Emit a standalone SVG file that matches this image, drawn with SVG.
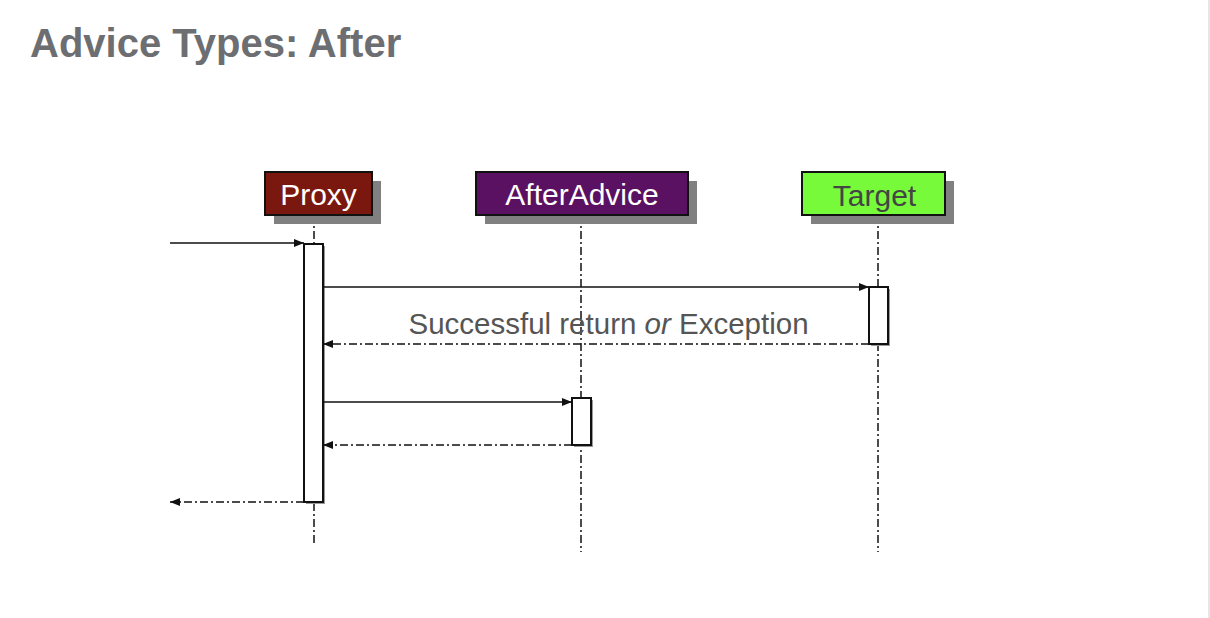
<svg xmlns="http://www.w3.org/2000/svg" width="1210" height="618" viewBox="0 0 1210 618">
<style>
.title{font-family:"Liberation Sans",Arial,sans-serif;font-weight:bold;font-size:40px;fill:#6d6e71}
.lbl{font-family:"Liberation Sans",Arial,sans-serif;font-size:30px;text-anchor:middle}
.msg{font-family:"Liberation Sans",Arial,sans-serif;font-size:29.5px;fill:#555;text-anchor:middle}
.box{stroke:#111;stroke-width:2}
.shadow{fill:#808080}
.life{stroke:#111;stroke-width:1.5;stroke-dasharray:8 3 2 3;fill:none}
.act{fill:#fff;stroke:#111;stroke-width:2}
.call{stroke:#111;stroke-width:1.3;fill:none;marker-end:url(#ah)}
.ret{stroke:#111;stroke-width:1.3;fill:none;stroke-dasharray:8 3 2 3;marker-end:url(#ah)}
</style>
<defs>
<marker id="ah" viewBox="0 0 10 10" refX="10" refY="5" markerWidth="10" markerHeight="10" markerUnits="userSpaceOnUse" orient="auto">
<path d="M0,1 L10,5 L0,9 z" fill="#111"/>
</marker>
</defs>
<rect width="1210" height="618" fill="#fff"/>
<line x1="1209" y1="0" x2="1209" y2="618" stroke="#e6e6e6" stroke-width="2"/>
<text class="title" x="30" y="57">Advice Types: After</text>

<g id="lifelines">
<line class="life" x1="314" y1="215" x2="314" y2="545"/>
<line class="life" x1="581" y1="215" x2="581" y2="552"/>
<line class="life" x1="878" y1="215" x2="878" y2="552"/>
</g>

<g id="proxy">
<rect class="shadow" x="274" y="181" width="107" height="43"/>
<rect class="box" x="265" y="172" width="107" height="43" fill="#7a180f"/>
<text class="lbl" x="318.5" y="205" fill="#fff">Proxy</text>
</g>
<g id="afteradvice">
<rect class="shadow" x="485" y="181" width="212" height="43"/>
<rect class="box" x="476" y="172" width="212" height="43" fill="#5b1161"/>
<text class="lbl" x="582" y="205" fill="#fff">AfterAdvice</text>
</g>
<g id="target">
<rect class="shadow" x="811" y="181" width="143" height="43"/>
<rect class="box" x="802" y="172" width="143" height="43" fill="#76fa3a"/>
<text class="lbl" x="874.5" y="206" fill="#444">Target</text>
</g>

<g id="activations">
<rect x="306" y="246" width="19" height="258" fill="#999"/>
<rect class="act" x="304" y="244" width="19" height="258"/>
<rect x="871" y="289" width="19" height="57" fill="#999"/>
<rect class="act" x="869" y="287" width="19" height="57"/>
<rect x="574" y="400" width="19" height="47" fill="#999"/>
<rect class="act" x="572" y="398" width="19" height="47"/>
</g>

<g id="connectors">
<line class="call" x1="170" y1="243" x2="304" y2="243"/>
<line class="call" x1="323" y1="287" x2="869" y2="287"/>
<line class="ret" x1="869" y1="344" x2="323" y2="344"/>
<text class="msg" x="608.5" y="334">Successful return <tspan font-style="italic">or</tspan> Exception</text>
<line class="call" x1="323" y1="402" x2="572" y2="402"/>
<line class="ret" x1="572" y1="445" x2="323" y2="445"/>
<line class="ret" x1="304" y1="502" x2="170" y2="502"/>
</g>
</svg>
